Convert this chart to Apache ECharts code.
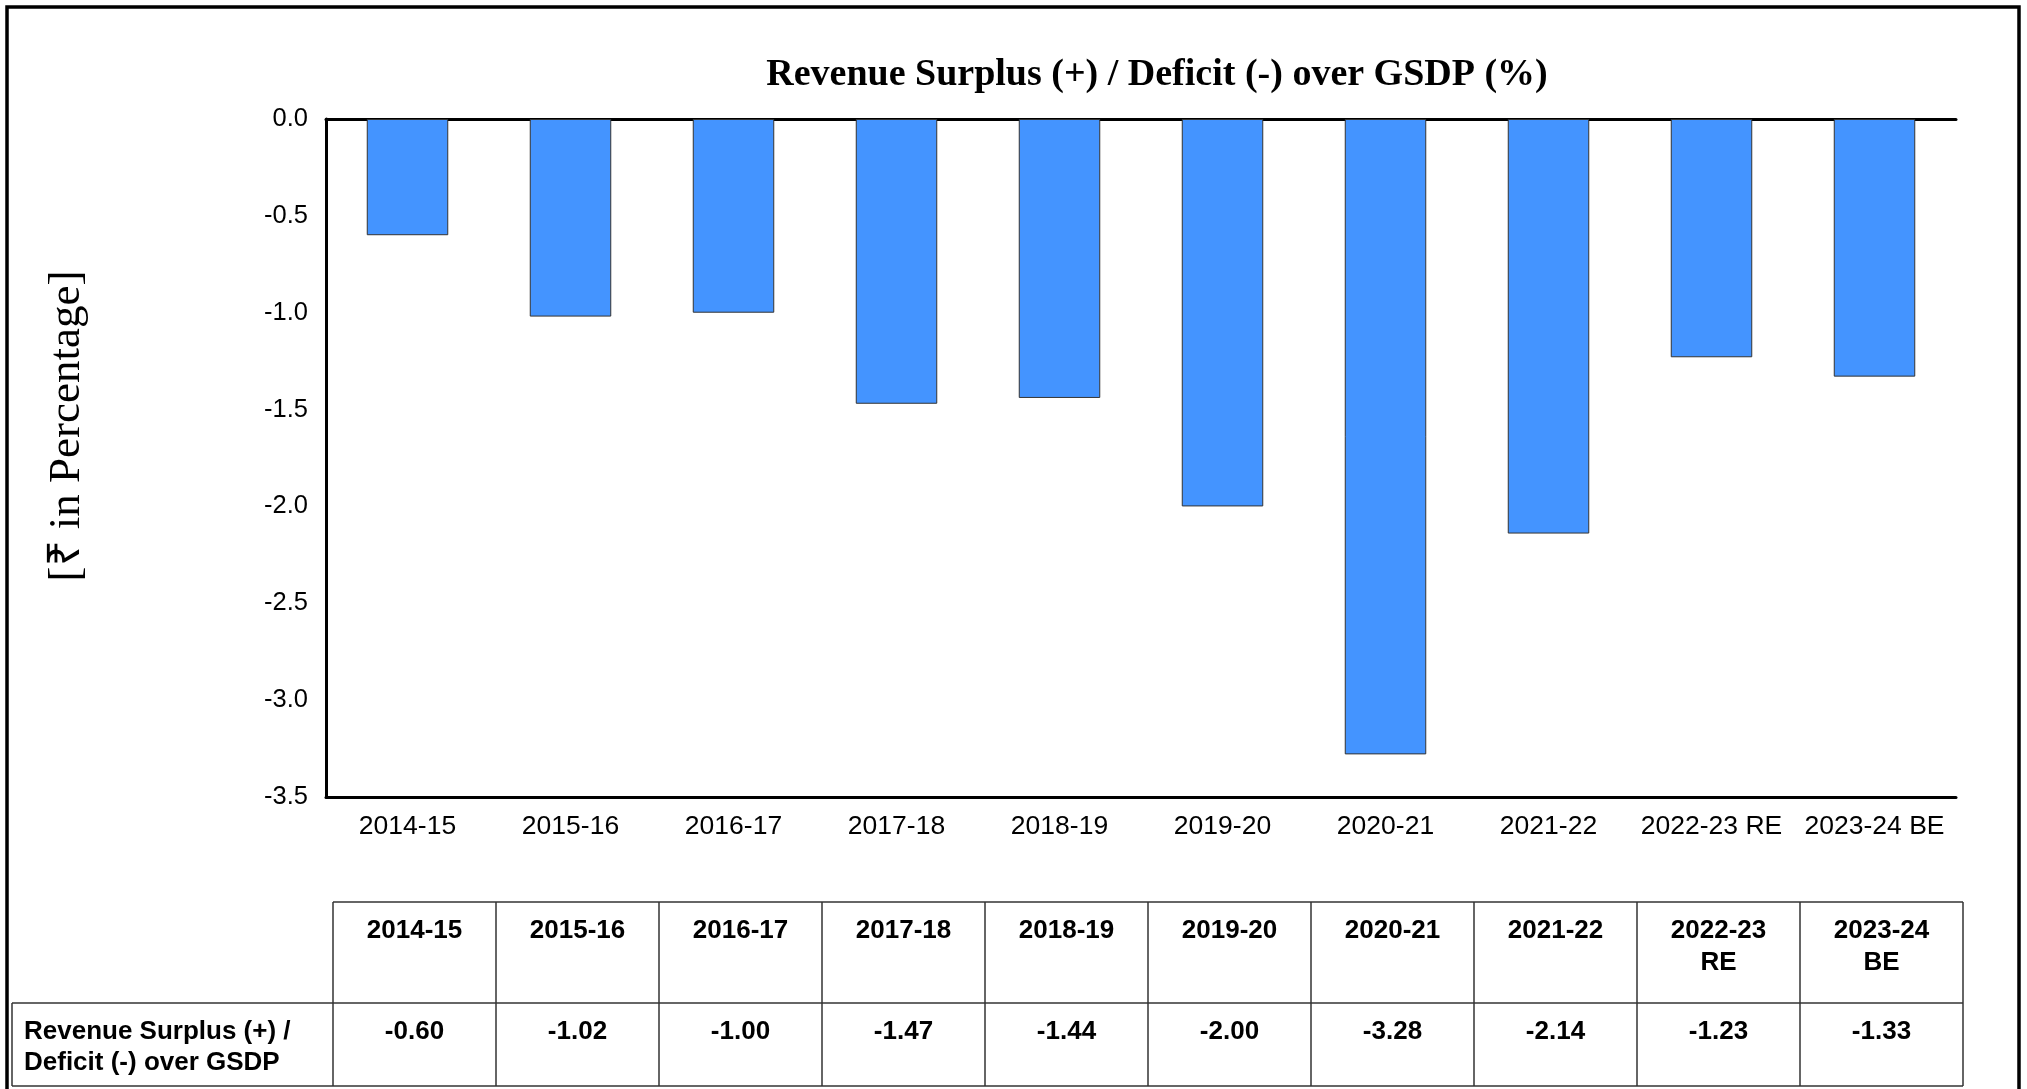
<!DOCTYPE html>
<html>
<head>
<meta charset="utf-8" />
<title>Revenue Surplus / Deficit over GSDP</title>
<script src="https://cdn.jsdelivr.net/npm/echarts@6/dist/echarts.min.js"></script>
<style>
	html, body { margin: 0; padding: 0; background: #fff; }
	#main { width: 2027px; height: 1089px; }
</style>
</head>
<body>
<div id="main"></div>
<script>
// data
var years = ['2014-15', '2015-16', '2016-17', '2017-18', '2018-19', '2019-20', '2020-21', '2021-22', '2022-23 RE', '2023-24 BE'];
var tableHeads = ['2014-15', '2015-16', '2016-17', '2017-18', '2018-19', '2019-20', '2020-21', '2021-22', '2022-23\nRE', '2023-24\nBE'];
var deficit = [-0.60, -1.02, -1.00, -1.47, -1.44, -2.00, -3.28, -2.14, -1.23, -1.33];
var chartTitle = 'Revenue Surplus (+) / Deficit (-) over GSDP (%)';
var axisName = '[₹ in Percentage]';
var rowLabel = 'Revenue Surplus (+) /\nDeficit (-) over GSDP';

var SANS = 'Liberation Sans, Arial, sans-serif';
var SERIF = 'Liberation Serif, Times New Roman, serif';

var chart = echarts.init(document.getElementById('main'));

chart.setOption({
	animation: false,
	backgroundColor: '#fff',
	title: {
		text: chartTitle,
		left: 1157,
		top: 56,
		padding: 0,
		textAlign: 'center',
		textStyle: { fontFamily: SERIF, fontSize: 38, fontWeight: 'bold', color: '#000', lineHeight: 38 }
	},
	grid: [
		{ left: 326, top: 119, width: 1630, height: 678 },
		// hidden grid, only used to place the table columns
		{ left: 333, top: 902, width: 1630, height: 184 }
	],
	xAxis: [{
		type: 'category',
		gridIndex: 0,
		data: years,
		position: 'bottom',
		axisLine: { onZero: false, lineStyle: { color: '#000', width: 3 } },
		axisTick: { show: false },
		axisLabel: { interval: 0, margin: 30, verticalAlign: 'middle', fontFamily: SANS, fontSize: 26.5, color: '#000' }
	}, {
		// line at 0.0 on top
		type: 'category',
		gridIndex: 0,
		data: years,
		position: 'top',
		axisLine: { onZero: false, lineStyle: { color: '#000', width: 3 } },
		axisTick: { show: false },
		axisLabel: { show: false }
	}, {
		type: 'category',
		gridIndex: 1,
		data: tableHeads,
		show: false
	}],
	yAxis: [{
		type: 'value',
		gridIndex: 0,
		min: -3.5,
		max: 0,
		interval: 0.5,
		axisLine: { show: true, lineStyle: { color: '#000', width: 3 } },
		axisTick: { show: false },
		splitLine: { show: false },
		axisLabel: {
			margin: 18,
			fontFamily: SANS, fontSize: 25.5, color: '#000',
			formatter: function(v) { return v.toFixed(1); }
		}
	}, {
		type: 'value',
		gridIndex: 1,
		show: false
	}],
	series: [{
		type: 'bar',
		xAxisIndex: 0,
		yAxisIndex: 0,
		data: deficit,
		barWidth: '50%',
		itemStyle: { color: '#4494ff', borderColor: '#333', borderWidth: 1 }
	}]
});

// table under the chart, columns follow the hidden category axis
function buildGraphics() {
	var g = [];
	var lineStyle = { stroke: '#333', lineWidth: 1.5 };
	var top = 902, mid = 1003, bottom = 1086, tableLeft = 12;
	var half = 1630 / tableHeads.length / 2;
	var xs = tableHeads.map(function(h, i) {
		return chart.convertToPixel({ xAxisIndex: 2 }, i);
	});
	var left = xs[0] - half, right = xs[xs.length - 1] + half;

	g.push({ type: 'line', shape: { x1: left, y1: top, x2: right, y2: top }, style: lineStyle });
	g.push({ type: 'line', shape: { x1: tableLeft, y1: mid, x2: right, y2: mid }, style: lineStyle });
	g.push({ type: 'line', shape: { x1: tableLeft, y1: bottom, x2: right, y2: bottom }, style: lineStyle });
	g.push({ type: 'line', shape: { x1: tableLeft, y1: mid, x2: tableLeft, y2: bottom }, style: lineStyle });
	g.push({ type: 'line', shape: { x1: left, y1: top, x2: left, y2: bottom }, style: lineStyle });

	xs.forEach(function(x, i) {
		g.push({ type: 'line', shape: { x1: x + half, y1: top, x2: x + half, y2: bottom }, style: lineStyle });
		g.push({
			type: 'text',
			style: {
				text: tableHeads[i], x: x, y: 915,
				fontFamily: SANS, fontSize: 26, fontWeight: 'bold', fill: '#000',
				lineHeight: 32, align: 'center', textAlign: 'center', verticalAlign: 'top', textVerticalAlign: 'top'
			}
		});
		g.push({
			type: 'text',
			style: {
				text: deficit[i].toFixed(2), x: x, y: 1032,
				fontFamily: SANS, fontSize: 26, fontWeight: 'bold', fill: '#000',
				align: 'center', textAlign: 'center', verticalAlign: 'middle', textVerticalAlign: 'middle'
			}
		});
	});

	g.push({
		type: 'text',
		style: {
			text: rowLabel, x: 24, y: 1016,
			fontFamily: SANS, fontSize: 26, fontWeight: 'bold', fill: '#000',
			lineHeight: 31.5, align: 'left', textAlign: 'left', verticalAlign: 'top', textVerticalAlign: 'top'
		}
	});

	// y axis name
	g.push({
		type: 'text',
		x: 67, y: 426,
		rotation: Math.PI / 2,
		style: {
			text: axisName, x: 0, y: 0,
			fontFamily: SERIF, fontSize: 45, fill: '#000',
			align: 'center', textAlign: 'center', verticalAlign: 'middle', textVerticalAlign: 'middle'
		}
	});

	// outer frame
	g.push({
		type: 'rect',
		shape: { x: 7, y: 7, width: 2012, height: 1100 },
		style: { fill: 'none', stroke: '#000', lineWidth: 3.5 }
	});
	return g;
}

chart.setOption({ graphic: buildGraphics() });

window.onresize = function() {
	chart.resize();
};
</script>
</body>
</html>
